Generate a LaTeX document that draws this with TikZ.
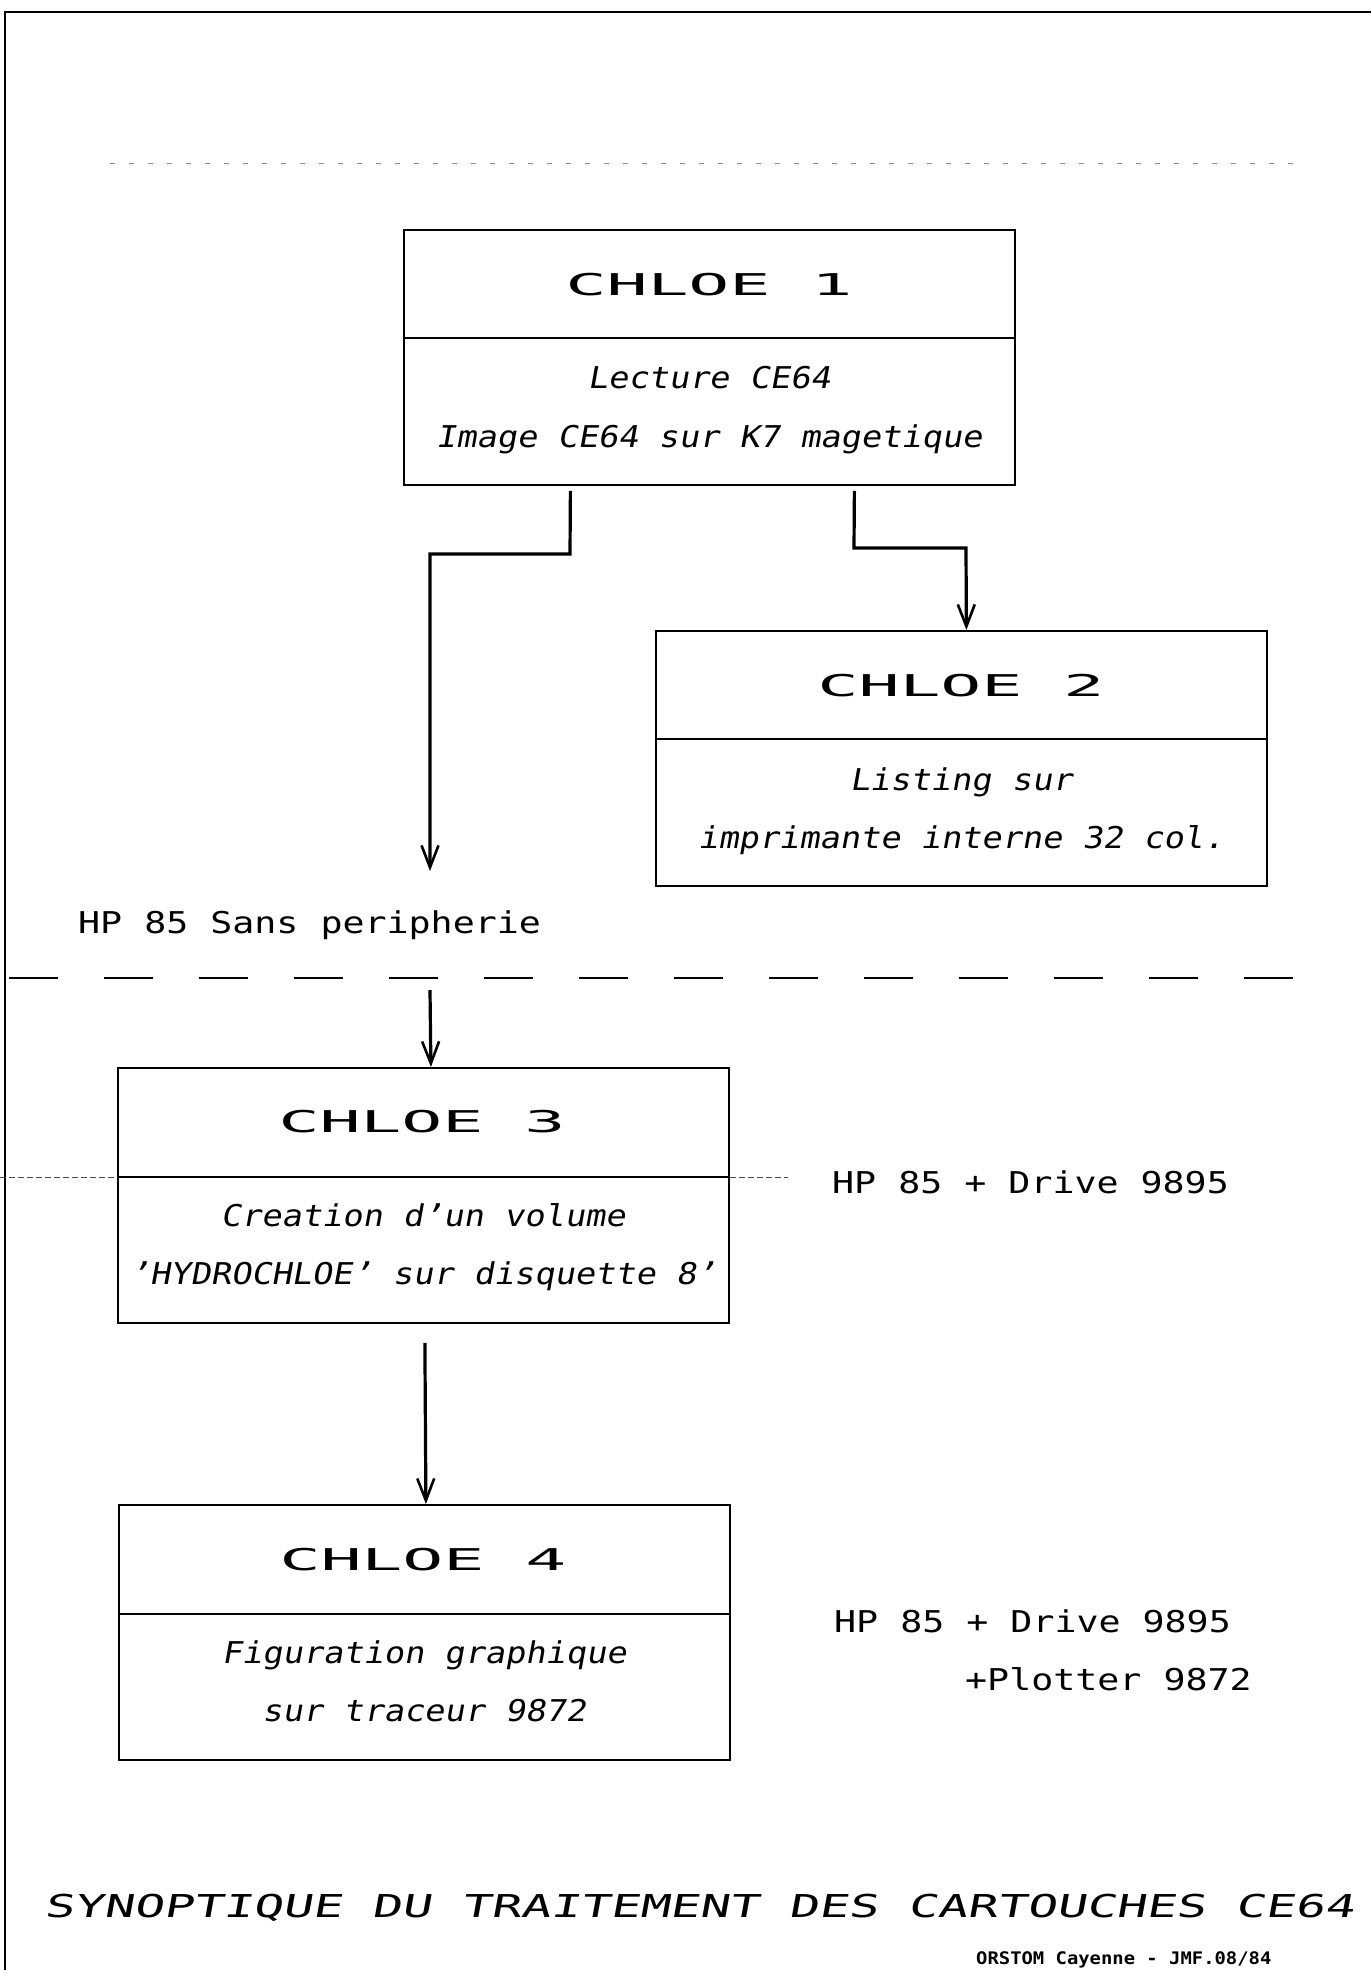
\documentclass[tikz,border=0pt]{standalone}
\usepackage{fontspec}
\usetikzlibrary{arrows.meta}
\newfontfamily\ftitle[FakeStretch=2.27]{DejaVu Sans Mono}
\newfontfamily\fbody[FakeStretch=1.12,FakeSlant=0.18]{DejaVu Sans Mono}
\newfontfamily\flabel[FakeStretch=1.22]{DejaVu Sans Mono}
\newfontfamily\fsyn[FakeStretch=1.57,FakeSlant=0.18]{DejaVu Sans Mono}
\newfontfamily\ffoot[FakeStretch=1.09]{DejaVu Sans Mono}
\tikzset{
  box/.style={draw, line width=1.8pt, inner sep=0pt, anchor=north west,
    minimum width=611pt, minimum height=255pt},
  divider/.style={line width=1.6pt},
  conn/.style={line width=3.2pt, -{Straight Barb[length=22pt,width=17pt,line width=2.6pt]}},
  ttl/.style={anchor=base, inner sep=0pt, font=\ftitle\fontsize{30}{36}\selectfont},
  body/.style={anchor=base, inner sep=0pt, font=\fbody\fontsize{30}{36}\selectfont},
  lbl/.style={anchor=base west, inner sep=0pt, font=\flabel\fontsize{30}{36}\selectfont},
  syn/.style={anchor=base west, inner sep=0pt, font=\fsyn\fontsize{31.5}{36}\selectfont},
  foot/.style={anchor=base west, inner sep=0pt, font=\ffoot\bfseries\fontsize{17.3}{20}\selectfont},
  frame/.style={line width=2pt},
  faint/.style={line width=1pt, black!70, dash pattern=on 6pt off 3pt},
  sep/.style={line width=2pt, dash pattern=on 49pt off 46pt},
}
\begin{document}
\begin{tikzpicture}[x=1pt, y=-1pt]
\useasboundingbox (0,0) rectangle (1371,1970);
% frame
\draw[frame] (5,1970) -- (5,12) -- (1371,12);
\draw[line width=0.8pt, black!45, dash pattern=on 5pt off 14pt] (110,163) -- (1305,163);

% boxes
\node[box] (c1) at (403,229) {};
\node[box] (c2) at (655,630) {};
\node[box] (c3) at (117,1067) {};
\node[box] (c4) at (118,1504) {};
\foreach \b/\d in {c1/109, c2/109, c3/110, c4/110}
  \draw[divider] ([yshift=-\d pt]\b.north west) -- ([yshift=-\d pt]\b.north east);

% box texts
\node[ttl] (t1) at (709,295) {CHLOE 1};
\node[body] (t1a) at (709,388) {Lecture CE64};
\node[body] (t1b) at (709,447) {Image CE64 sur K7 magetique};

\node[ttl] (t2) at (961,696) {CHLOE 2};
\node[body] (t2a) at (961,790) {Listing sur};
\node[body] (t2b) at (961,848) {imprimante interne 32 col.};

\node[ttl] (t3) at (422,1132) {CHLOE 3};
\node[body] (t3a) at (423,1226) {Creation d’un volume};
\node[body] (t3b) at (423,1284) {’HYDROCHLOE’ sur disquette 8’};

\node[ttl] (t4) at (423,1570) {CHLOE 4};
\node[body] (t4a) at (424,1663) {Figuration graphique};
\node[body] (t4b) at (424,1721) {sur traceur 9872};

% labels
\node[lbl] (l1) at (78,933) {HP 85 Sans peripherie};
\node[lbl] (l3) at (832,1193) {HP 85 + Drive 9895};
\node[lbl] (l4a) at (834,1632) {HP 85 + Drive 9895};
\node[lbl] (l4b) at (965,1690) {+Plotter 9872};

% separator
\draw[sep] (9,978) -- (1301,978);
% faint line at CHLOE 3 divider
\draw[faint] (0,1177) -- (c3.west |- 0,1177);
\draw[faint] (c3.east |- 0,1177) -- (788,1177);

% connectors
\coordinate (hp) at (430,871);
\draw[conn] ([xshift=-139pt,yshift=-5pt]c1.south) -- (570,554) -- (430,554) -- (hp);
\draw[conn] ([xshift=145pt,yshift=-5pt]c1.south) -- (854,548) -- (966,548) -- ([xshift=5pt]c2.north);
\coordinate (sp) at (430,990);
\draw[conn] (sp) -- ([xshift=7.5pt]c3.north);
\draw[conn] ([xshift=1.5pt,yshift=-19pt]c3.south) -- ([xshift=1.5pt]c4.north);

% title and footer
\node[syn] (syn) at (44,1917) {SYNOPTIQUE DU TRAITEMENT DES CARTOUCHES CE64};
\node[foot] (ft) at (976,1964) {ORSTOM Cayenne - JMF.08/84};
\end{tikzpicture}
\end{document}
